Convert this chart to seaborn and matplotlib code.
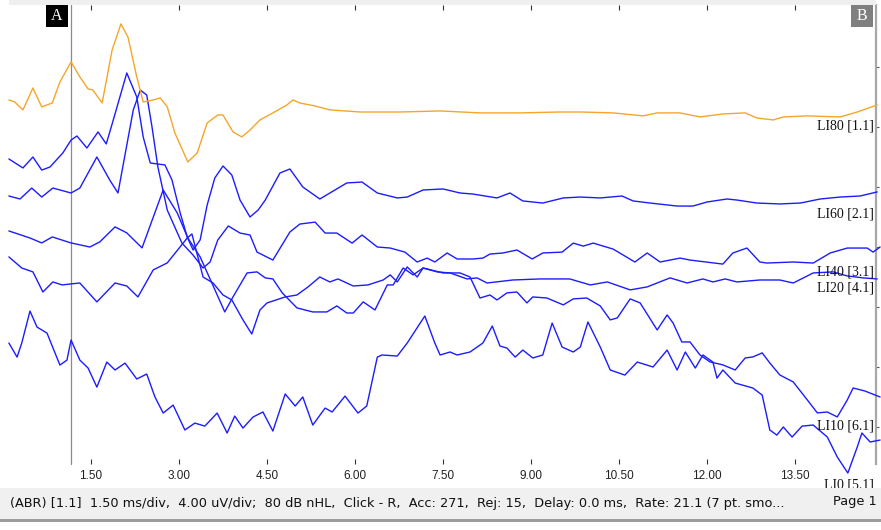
import numpy as np
import pandas as pd
import matplotlib
matplotlib.use("Agg")
import matplotlib.pyplot as plt
import seaborn as sns
from matplotlib.patches import Rectangle

# ---------------- data (time in ms, amplitude in uV relative to each trace baseline) -------------
trace_names = ["LI80 [1.1]", "LI60 [2.1]", "LI40 [3.1]", "LI20 [4.1]", "LI10 [6.1]", "LI0 [5.1]"]
baselines_uv = [24.07, 18.20, 14.33, 13.27, 4.07, 0.33]

li80_t = [0.10, 0.20, 0.34, 0.51, 0.66, 0.84, 0.97, 1.16, 1.31, 1.45, 1.53, 1.69, 1.86, 2.01, 2.13,
          2.28, 2.39, 2.56, 2.68, 2.80, 2.93, 3.15, 3.31, 3.48, 3.66, 3.75, 3.92, 4.07, 4.21, 4.38,
          4.60, 4.84, 4.94, 5.06, 5.32, 5.57, 6.09, 6.77, 7.45, 8.13, 8.81, 9.49, 9.84, 10.40, 10.91,
          11.15, 11.54, 11.88, 12.27, 12.65, 12.85, 13.13, 13.30, 13.71, 14.27, 14.56, 14.90]
li80_v = [1.73, 1.60, 1.07, 2.53, 1.27, 1.53, 2.93, 4.27, 3.27, 2.47, 2.40, 1.53, 5.07, 6.80, 5.93,
          3.27, 1.60, 1.73, 1.87, 1.27, -0.47, -2.40, -1.80, 0.20, 0.73, 0.73, -0.40, -0.73, -0.27, 0.40,
          0.87, 1.40, 1.73, 1.53, 1.33, 1.07, 0.93, 0.93, 1.00, 0.87, 0.87, 0.93, 0.93, 0.87, 0.67,
          0.87, 0.87, 0.60, 0.80, 0.87, 0.53, 0.40, 0.60, 0.67, 0.60, 0.93, 1.40]

li60_t = [0.10, 0.34, 0.51, 0.66, 0.80, 1.02, 1.16, 1.26, 1.43, 1.62, 1.76, 1.88, 2.11, 2.28, 2.39,
          2.51, 2.76, 2.88, 3.02, 3.14, 3.24, 3.36, 3.48, 3.61, 3.75, 3.90, 4.04, 4.21, 4.35, 4.47,
          4.72, 4.89, 5.11, 5.40, 5.86, 6.12, 6.38, 6.72, 6.89, 7.16, 7.50, 7.79, 8.01, 8.42, 8.64,
          8.86, 9.20, 9.55, 9.84, 10.18, 10.55, 10.74, 11.03, 11.49, 11.76, 12.00, 12.34, 12.51, 12.85,
          13.24, 13.59, 13.93, 14.27, 14.61, 14.90]
li60_v = [3.67, 3.07, 3.80, 2.93, 3.13, 4.07, 4.93, 5.20, 4.40, 5.47, 4.67, 6.27, 9.40, 7.80, 5.13,
          3.40, 3.27, 2.27, 0.07, -1.53, -2.40, -1.73, 0.60, 2.40, 3.20, 2.60, 0.93, -0.20, 0.27, 0.93,
          2.73, 3.00, 1.80, 1.00, 2.07, 2.13, 1.40, 1.07, 1.13, 1.60, 1.67, 1.40, 1.33, 1.07, 1.40,
          0.87, 0.73, 1.07, 1.13, 1.07, 1.20, 0.87, 0.73, 0.53, 0.53, 0.80, 1.00, 0.93, 0.73,
          0.67, 0.73, 1.00, 1.13, 1.20, 1.47]

li40_t = [0.10, 0.29, 0.49, 0.66, 0.85, 1.16, 1.31, 1.60, 1.82, 1.96, 2.22, 2.34, 2.45, 2.54, 2.64,
          2.80, 3.05, 3.24, 3.41, 3.53, 3.66, 3.84, 4.04, 4.21, 4.33, 4.60, 4.89, 5.06, 5.32, 5.49,
          5.69, 5.95, 6.12, 6.38, 6.60, 6.85, 7.06, 7.23, 7.36, 7.57, 7.74, 8.01, 8.18, 8.30, 8.52,
          8.76, 9.02, 9.20, 9.53, 9.72, 9.89, 10.06, 10.40, 10.77, 10.98, 11.20, 11.54, 11.71, 12.27,
          12.44, 12.68, 12.90, 13.02, 13.47, 13.81, 14.10, 14.39, 14.73, 14.83, 14.95]
li40_v = [5.07, 4.87, 5.60, 5.00, 5.60, 5.27, 5.60, 7.67, 6.13, 5.27, 10.80, 12.13, 11.80, 9.67, 7.00,
          4.13, 1.93, 1.13, 0.27, 0.67, 2.13, 3.07, 2.60, 2.47, 1.33, 0.80, 2.67, 3.20, 3.33, 2.60,
          2.60, 1.93, 2.47, 1.67, 1.60, 1.33, 0.67, 0.93, 0.67, 1.27, 0.87, 0.87, 0.93, 1.20, 1.27,
          1.47, 0.87, 1.27, 1.33, 1.93, 1.73, 1.93, 1.53, 0.67, 1.27, 0.67, 0.93, 0.80, 0.53,
          1.27, 1.60, 0.67, 0.60, 0.67, 0.60, 1.27, 1.60, 1.60, 1.33, 1.67]

li20_t = [0.10, 0.32, 0.51, 0.68, 0.85, 1.01, 1.16, 1.31, 1.60, 1.91, 2.11, 2.30, 2.56, 2.80, 3.14,
          3.22, 3.41, 3.58, 3.75, 3.90, 4.09, 4.24, 4.38, 4.50, 4.81, 5.01, 5.20, 5.40, 5.57, 5.71,
          5.97, 6.22, 6.48, 6.60, 6.72, 6.89, 7.06, 7.16, 7.40, 7.62, 7.91, 8.08, 8.25, 8.69, 9.15,
          9.66, 10.01, 10.30, 10.69, 10.98, 11.37, 11.66, 11.93, 12.10, 12.31, 12.51, 12.90, 13.24,
          13.47, 13.81, 14.15, 14.39, 14.66, 14.90]
li20_v = [2.07, 1.33, 1.07, -0.27, 0.40, 0.20, 0.27, 0.33, -0.93, 0.33, 0.13, -0.60, 1.20, 1.67, 3.33,
          3.60, 0.73, 0.33, -0.47, -0.80, -2.13, -3.07, -1.47, -1.00, -0.60, -0.47, 0.07, 0.73, 0.40, 0.60,
          0.13, 0.20, 0.53, 0.87, 0.40, 1.40, 0.73, 1.33, 1.07, 1.00, 0.60, 0.67, 0.33, 0.53, 0.60,
          0.60, 0.20, 0.40, -0.13, 0.07, 0.67, 0.33, 0.60, 0.40, 0.60, 0.40, 0.53, 0.53,
          0.33, 1.00, 1.07, 0.80, 0.67, 0.60]

li10_t = [0.10, 0.46, 0.66, 0.84, 1.16, 1.48, 1.65, 1.91, 2.11, 2.37, 2.73, 2.97, 3.15, 3.36, 3.56,
          3.78, 3.92, 4.16, 4.33, 4.47, 4.60, 4.76, 5.01, 5.28, 5.52, 5.69, 5.86, 5.97, 6.14, 6.34,
          6.55, 6.65, 6.82, 6.99, 7.16, 7.50, 7.79, 7.96, 8.13, 8.30, 8.42, 8.59, 8.76, 8.93, 9.03,
          9.27, 9.55, 9.72, 9.95, 10.18, 10.35, 10.47, 10.69, 10.86, 11.15, 11.32, 11.42, 11.57, 11.71,
          11.88, 12.05, 12.27, 12.48, 12.65, 12.78, 12.94, 13.07, 13.24, 13.47, 13.71, 13.88, 14.05,
          14.22, 14.39, 14.49, 14.69, 14.95]
li10_v = [13.00, 12.53, 12.20, 12.60, 12.20, 11.93, 12.27, 13.27, 12.87, 11.87, 15.73, 14.20, 12.53, 11.27, 9.53,
          7.60, 8.60, 10.20, 10.27, 9.87, 9.80, 8.87, 7.87, 7.60, 7.60, 8.00, 7.53, 7.53, 8.27, 7.73,
          9.40, 9.40, 10.53, 10.07, 10.53, 10.20, 10.20, 9.93, 8.53, 8.73, 8.40, 8.87, 8.93, 8.20, 8.60,
          8.53, 8.07, 8.47, 8.53, 8.00, 7.07, 7.20, 8.47, 8.20, 6.40, 7.40, 6.87, 5.60, 5.60,
          4.73, 4.27, 4.07, 3.73, 4.53, 4.60, 4.87, 4.20, 3.40, 2.93, 1.73, 0.87, 0.93,
          0.60, 1.73, 2.53, 2.33, 1.93]

li0_t = [0.10, 0.24, 0.32, 0.46, 0.58, 0.75, 0.97, 1.09, 1.16, 1.31, 1.45, 1.60, 1.77, 1.91, 2.08,
         2.28, 2.45, 2.59, 2.73, 2.90, 3.10, 3.27, 3.44, 3.65, 3.82, 3.95, 4.09, 4.26, 4.43, 4.60,
         4.81, 4.98, 5.11, 5.28, 5.49, 5.61, 5.83, 6.05, 6.20, 6.38, 6.46, 6.72, 6.89, 7.19, 7.36,
         7.45, 7.62, 7.74, 7.96, 8.18, 8.34, 8.47, 8.59, 8.73, 8.86, 9.03, 9.20, 9.36, 9.53, 9.72,
         9.84, 9.97, 10.18, 10.35, 10.60, 10.81, 11.08, 11.32, 11.49, 11.63, 11.80, 11.93, 12.10,
         12.17, 12.27, 12.48, 12.78, 12.94, 13.07, 13.19, 13.30, 13.45, 13.62, 13.81, 14.05, 14.22,
         14.40, 14.56, 14.64, 14.78, 14.95]
li0_v = [9.27, 8.33, 9.27, 11.40, 10.33, 9.93, 7.80, 8.13, 9.47, 8.13, 7.60, 6.33, 8.00, 7.47, 7.93,
         6.87, 7.20, 5.67, 4.60, 5.13, 3.47, 3.93, 3.73, 4.60, 3.27, 4.40, 3.60, 4.33, 4.67, 3.40,
         5.87, 5.07, 5.67, 3.80, 4.93, 4.67, 5.73, 4.60, 5.07, 8.33, 8.47, 8.40, 9.27, 11.07, 9.27,
         8.47, 8.67, 8.47, 8.67, 9.27, 10.40, 9.07, 8.93, 8.33, 8.80, 8.27, 8.47, 10.60, 9.00, 8.67,
         9.00, 10.67, 9.00, 7.47, 7.13, 8.00, 7.67, 8.80, 7.47, 8.67, 7.60, 8.47, 8.00,
         6.93, 7.47, 6.60, 6.27, 5.80, 3.47, 3.13, 3.67, 3.00, 3.73, 3.80, 3.00, 1.67,
         0.60, 2.33, 3.27, 2.67, 2.80]

xtick_values = [1.5, 3.0, 4.5, 6.0, 7.5, 9.0, 10.5, 12.0, 13.5]
xtick_labels = ["1.50", "3.00", "4.50", "6.00", "7.50", "9.00", "10.50", "12.00", "13.50"]
ytick_values = [4, 8, 12, 16, 20, 24, 28]
cursor_a_ms = 1.16
status_text = ("(ABR) [1.1]  1.50 ms/div,  4.00 uV/div;  80 dB nHL,  Click - R,  Acc: 271,  "
               "Rej: 15,  Delay: 0.0 ms,  Rate: 21.1 (7 pt. smo...")
page_text = "Page 1"

# ---------------- build table ----------------
series_t = [li80_t, li60_t, li40_t, li20_t, li10_t, li0_t]
series_v = [li80_v, li60_v, li40_v, li20_v, li10_v, li0_v]
rows = []
for name, base, ts, vs in zip(trace_names, baselines_uv, series_t, series_v):
    for t, v in zip(ts, vs):
        rows.append({"trace": name, "time": t, "uv": v + base})
df = pd.DataFrame(rows)

blue = "#1c1cff"
orange = "#f4a62a"
palette = {n: (orange if i == 0 else blue) for i, n in enumerate(trace_names)}
label_nudge = [0, 0, 0, 0, 0, -0.2]

# ---------------- figure ----------------
sns.set_style("white")
plt.rcParams["font.family"] = ["Liberation Sans", "DejaVu Sans"]

W, H = 881, 530
fig = plt.figure(figsize=(W / 100, H / 100), dpi=100)
fig.patch.set_facecolor("white")

def fx(px):
    return px / W

def fy(py):
    return 1 - py / H

ax_left, ax_right, ax_top, ax_bot = 9, 876, 5, 464
ax = fig.add_axes([fx(ax_left), fy(ax_bot), (ax_right - ax_left) / W, (ax_bot - ax_top) / H])
ax.set_facecolor("white")

ax.axvline(cursor_a_ms, color="#8a8a8a", lw=0.9, zorder=1)

sns.lineplot(data=df, x="time", y="uv", hue="trace", hue_order=trace_names[::-1],
             palette=palette, estimator=None, sort=False, legend=False, lw=1.0, ax=ax, zorder=3)
for ln in ax.get_lines():
    ln.set_clip_on(False)
    ln.set_solid_joinstyle("round")
    ln.set_solid_capstyle("round")

ax.set_xlim(0.1023, 14.880)
ax.set_ylim(1.533, 32.133)

for name, base, nud in zip(trace_names, baselines_uv, label_nudge):
    ax.text(14.85, base + nud, name, ha="right", va="center", fontsize=10,
            family=["Liberation Serif", "DejaVu Serif"], color="#111111", clip_on=False, zorder=4)

for s in ["left", "top", "bottom"]:
    ax.spines[s].set_visible(False)
ax.spines["right"].set_color("#a8a8a8")
ax.spines["right"].set_linewidth(1.6)

ax.set_xticks(xtick_values)
ax.set_xticklabels(xtick_labels)
ax.tick_params(axis="x", direction="in", length=3.6, width=0.8, color="#333333",
               top=True, bottom=True, labelsize=8.5, labelcolor="#222222", pad=4.5)
ax.yaxis.tick_right()
ax.set_yticks(ytick_values)
ax.tick_params(axis="y", direction="out", length=2.2, width=0.8, color="#555555",
               labelright=False, labelleft=False, right=True, left=False)
ax.set_xlabel("")
ax.set_ylabel("")
ax.grid(False)

# ---------------- overlay: frame, markers, status bar ----------------
ov = fig.add_axes([0, 0, 1, 1], zorder=10)
ov.set_xlim(0, W)
ov.set_ylim(H, 0)
ov.axis("off")
ov.patch.set_alpha(0)

ov.add_patch(Rectangle((9, 0), 867, 5, facecolor="#efefef", edgecolor="none"))
ov.add_patch(Rectangle((46, 5), 22, 22, facecolor="#000000", edgecolor="none"))
ov.text(57, 16.5, "A", color="white", ha="center", va="center", fontsize=11.5,
        family=["Liberation Serif", "DejaVu Serif"])
ov.add_patch(Rectangle((851, 5), 22, 22, facecolor="#7f7f7f", edgecolor="none"))
ov.text(862, 16.5, "B", color="white", ha="center", va="center", fontsize=11.5,
        family=["Liberation Serif", "DejaVu Serif"])

ov.add_patch(Rectangle((0, 488), W, 31, facecolor="#f0f0f0", edgecolor="none"))
ov.add_patch(Rectangle((0, 519), W, 3, facecolor="#9c9c9c", edgecolor="none"))
ov.add_patch(Rectangle((0, 522), W, 8, facecolor="#ffffff", edgecolor="none"))
ov.text(10, 503, status_text, ha="left", va="center", fontsize=9.25, color="#111111",
        family=["DejaVu Sans"])
ov.text(877, 502, page_text, ha="right", va="center", fontsize=9.3, color="#111111",
        family=["DejaVu Sans"])

fig.savefig("out.png", dpi=100)
